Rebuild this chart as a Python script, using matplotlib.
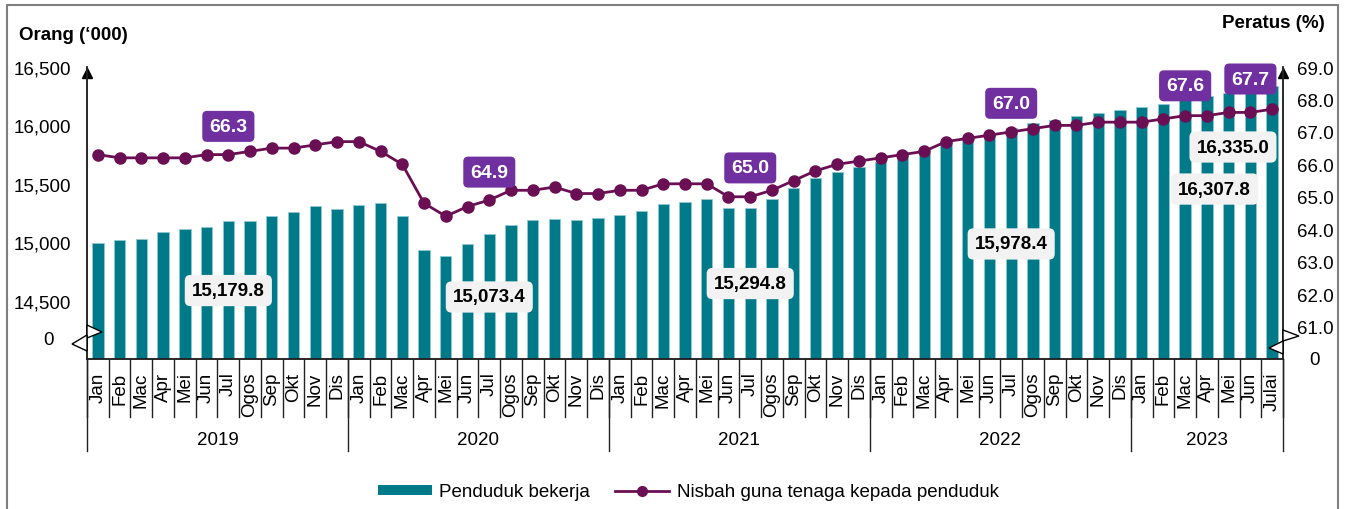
import matplotlib
matplotlib.use("Agg")
import matplotlib.pyplot as plt
import matplotlib.transforms as mtransforms
from matplotlib.patches import Polygon, Rectangle, Patch
from matplotlib.lines import Line2D
import numpy as np

plt.rcParams['font.family'] = ['Liberation Sans', 'DejaVu Sans']

# ---------------- data ----------------
months = (["Jan", "Feb", "Mac", "Apr", "Mei", "Jun", "Jul", "Ogos", "Sep", "Okt", "Nov", "Dis"] * 4
          + ["Jan", "Feb", "Mac", "Apr", "Mei", "Jun", "Julai"])
years = ["2019", "2020", "2021", "2022", "2023"]
months_per_year = [12, 12, 12, 12, 7]

employed = [
    14992, 15023, 15031, 15085, 15117, 15131, 15179.8, 15181, 15225, 15262, 15311, 15282,
    15316, 15339, 15228, 14932, 14880, 14986, 15073.4, 15151, 15188, 15202, 15191, 15211,
    15231, 15265, 15328, 15348, 15368, 15293, 15294.8, 15373, 15462, 15552, 15605, 15644,
    15685, 15738, 15766, 15852, 15880, 15923, 15978.4, 16017, 16048, 16079, 16104, 16128,
    16157, 16185, 16220, 16250, 16275, 16307.8, 16335.0,
]
ratio = [
    66.3, 66.2, 66.2, 66.2, 66.2, 66.3, 66.3, 66.4, 66.5, 66.5, 66.6, 66.7,
    66.7, 66.4, 66.0, 64.8, 64.4, 64.7, 64.9, 65.2, 65.2, 65.3, 65.1, 65.1,
    65.2, 65.2, 65.4, 65.4, 65.4, 65.0, 65.0, 65.2, 65.5, 65.8, 66.0, 66.1,
    66.2, 66.3, 66.4, 66.7, 66.8, 66.9, 67.0, 67.1, 67.2, 67.2, 67.3, 67.3,
    67.3, 67.4, 67.5, 67.5, 67.6, 67.6, 67.7,
]
labelled = [6, 18, 30, 42, 53, 54]          # months whose values are labelled
left_ticks = [14500, 15000, 15500, 16000, 16500]
right_ticks = [61, 62, 63, 64, 65, 66, 67, 68, 69]

# ---------------- style ----------------
BAR = "#007A88"
LINE = "#6B0F55"
PURPLE = "#7030A0"
W, H, DPI = 1345, 510, 100

fig = plt.figure(figsize=(W / DPI, H / DPI), dpi=DPI)
L, R, T, B = 87, 1283, 68, 360
ax = fig.add_axes([L / W, 1 - B / H, (R - L) / W, (B - T) / H])
ax2 = ax.twinx()

x = np.arange(len(employed))
ax.bar(x, employed, width=0.52, color=BAR, edgecolor="#8FC9D1", linewidth=0.6, zorder=2)
ax.set_ylim(14000, 16500)
ax.set_xlim(-0.5, len(employed) - 0.5)

ax2.plot(x, ratio, color=LINE, lw=2.0, marker="o", ms=8, zorder=3)
ax2.set_ylim(60, 69)

# y ticks (labels centred)
ax.set_yticks(left_ticks)
ax.set_yticklabels([f"{v:,}" for v in left_ticks], fontsize=13.5)
ax.tick_params(axis="y", length=0, pad=32)
for t in ax.get_yticklabels():
    t.set_ha("center")
fig.text(48.5 / W, 1 - 341 / H, "0", fontsize=13.5, ha="center", va="center")
ax2.set_yticks(right_ticks + [60.06])
ax2.set_yticklabels([f"{v:.1f}" for v in right_ticks] + ["0"], fontsize=13.5)
ax2.tick_params(axis="y", length=0, pad=23)
for t in ax2.get_yticklabels():
    t.set_ha("center")

# x month labels
ax.set_xticks(x)
ax.set_xticklabels(months, rotation=90, fontsize=13.5)
ax.tick_params(axis="x", length=0, pad=9)

for a in (ax, ax2):
    a.spines["top"].set_visible(False)
    for s in ("left", "right", "bottom"):
        a.spines[s].set_color("#222222")
        a.spines[s].set_linewidth(1.1)

# separators below axis
tr = mtransforms.blended_transform_factory(ax.transData, ax.transAxes)
axh = B - T
for k in range(len(employed) + 1):
    ax.plot([k - 0.5, k - 0.5], [0, -58 / axh], transform=tr, color="#222222", lw=1.0, clip_on=False)
start = 0
bounds = [0]
for n in months_per_year:
    start += n
    bounds.append(start)
for b_ in bounds:
    ax.plot([b_ - 0.5, b_ - 0.5], [0, -92 / axh], transform=tr, color="#222222", lw=1.0, clip_on=False)
for i, yr in enumerate(years):
    c = (bounds[i] + bounds[i + 1] - 1) / 2
    ax.text(c, -81 / axh, yr, transform=tr, ha="center", va="center", fontsize=13.5)

# axis arrows
off = mtransforms.ScaledTranslation(0, -4 / 72, fig.dpi_scale_trans)
ax.plot([0], [1], marker="^", ms=7, color="black", transform=ax.transAxes + off, clip_on=False)
ax.plot([1], [1], marker="^", ms=7, color="black", transform=ax.transAxes + off, clip_on=False)

# axis break marks (figure pixel decorations)
def fpoly(pts):
    return Polygon([(px / W, 1 - py / H) for px, py in pts], closed=True, transform=fig.transFigure,
                   facecolor="white", edgecolor="black", lw=1.0, zorder=10)
for pts in ([(87, 326), (102, 333), (87, 339)], [(87, 336), (72, 345), (87, 352)],
            [(1283, 331), (1299, 337), (1283, 342)], [(1283, 342), (1269, 349), (1283, 355)]):
    fig.add_artist(fpoly(pts))

# value labels
pct_dx = [0, 0, 0, 0, -3, -1]
pct_dy = [0.87, 0.86, 0.89, 0.88, 0.82, 0.93]
for i, dx, dy in zip(labelled, pct_dx, pct_dy):
    ax2.text(i + dx, ratio[i] + dy, f"{ratio[i]:.1f}", ha="center", va="center", fontsize=14,
             fontweight="bold", color="white", zorder=6,
             bbox=dict(boxstyle="round,pad=0.36,rounding_size=0.25", fc=PURPLE, ec="none"))
bar_dx = [0, 0, 0, 0, -1.64, -1.8]
bar_y = [14586, 14531, 14646, 14985, 15455, 15815]
for i, dx, yv in zip(labelled, bar_dx, bar_y):
    ax2.text(i + dx, yv, f"{employed[i]:,.1f}", transform=ax.transData, ha="center", va="center",
             fontsize=13.5, fontweight="bold", color="black", zorder=6,
             bbox=dict(boxstyle="round,pad=0.38,rounding_size=0.3", fc="#F2F2F2", ec="none"))

# axis titles
fig.text(19 / W, 1 - 35 / H, "Orang (‘000)", fontsize=13.5, fontweight="bold", ha="left", va="center")
fig.text(1325 / W, 1 - 23 / H, "Peratus (%)", fontsize=13.5, fontweight="bold", ha="right", va="center")

# legend
handles = [Patch(facecolor=BAR, edgecolor="none"),
           Line2D([], [], color=LINE, lw=2.0, marker="o", ms=7)]
fig.legend(handles, ["Penduduk bekerja", "Nisbah guna tenaga kepada penduduk"], loc="center",
           bbox_to_anchor=(688 / W, 1 - 493 / H), ncol=2, frameon=False, fontsize=13.5,
           handlelength=2.9, handleheight=0.5, handletextpad=0.4, columnspacing=1.3)

# outer frame
fig.add_artist(Rectangle((7 / W, -0.02), (1338 - 7) / W, 1.02 - 6 / H, transform=fig.transFigure,
                         fill=False, edgecolor="#7F7F7F", lw=1.5))

fig.savefig("out.png", dpi=DPI)
